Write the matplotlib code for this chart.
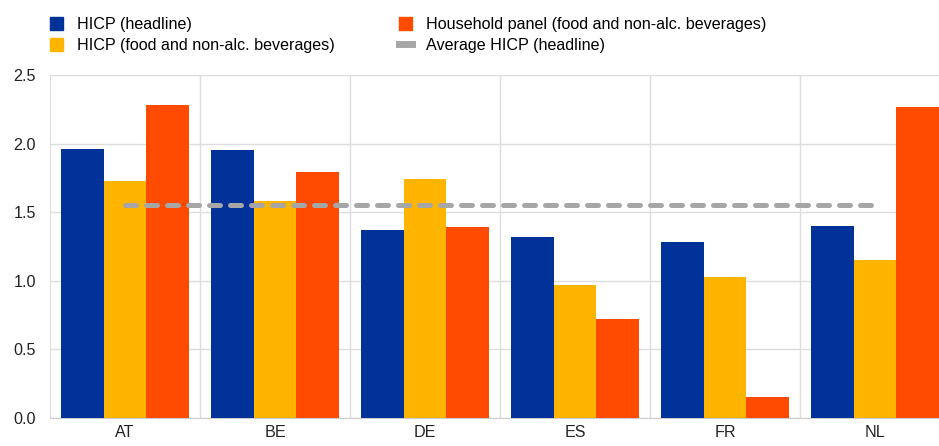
import matplotlib
matplotlib.use("Agg")
import matplotlib.pyplot as plt
import numpy as np
from matplotlib.patches import Patch
from matplotlib.lines import Line2D

plt.rcParams['font.family'] = ['Liberation Sans', 'DejaVu Sans']

countries = ['AT', 'BE', 'DE', 'ES', 'FR', 'NL']
hicp_headline = [1.96, 1.95, 1.37, 1.32, 1.28, 1.40]
hicp_food = [1.73, 1.58, 1.74, 0.97, 1.03, 1.15]
household_food = [2.28, 1.79, 1.39, 0.72, 0.15, 2.27]
avg_hicp = 1.55

blue = '#003299'
yellow = '#FFB400'
orange = '#FF4B00'
grey = '#A6A6A6'

fig = plt.figure(figsize=(9.39, 4.46), dpi=100)
# axes runs a little past the right edge like the original
ax = fig.add_axes([50 / 939, 28 / 446, 900 / 939, 343 / 446])

x = np.arange(len(countries))
w = 0.285
ax.bar(x - w, hicp_headline, w, color=blue, zorder=3)
ax.bar(x, hicp_food, w, color=yellow, zorder=3)
ax.bar(x + w, household_food, w, color=orange, zorder=3)
ax.plot([x[0], x[-1]], [avg_hicp, avg_hicp], color=grey, lw=3.6,
        dashes=(2.2, 2.0), dash_capstyle='round', zorder=4)

ax.set_xlim(-0.5, len(countries) - 0.5)
ax.set_ylim(0, 2.5)
ax.set_yticks(np.arange(0, 2.51, 0.5))
ax.set_yticklabels(['%.1f' % v for v in np.arange(0, 2.51, 0.5)])
ax.set_xticks(x)
ax.set_xticklabels(countries)
ax.set_xticks(np.arange(0.5, len(countries) - 0.5, 1), minor=True)
ax.tick_params(axis='both', which='both', length=0, labelsize=11.6, colors='#222222')
ax.tick_params(axis='y', pad=10)
ax.tick_params(axis='x', pad=5)
ax.grid(axis='y', color='#DDDDDD', lw=1, zorder=0)
ax.grid(axis='x', which='minor', color='#DDDDDD', lw=1, zorder=0)
for s in ['top', 'right']:
    ax.spines[s].set_visible(False)
ax.spines['left'].set_color('#DDDDDD')
ax.spines['bottom'].set_color('#CCCCCC')

handles = [Patch(color=blue), Patch(color=yellow), Patch(color=orange),
           Line2D([0], [0], color=grey, lw=5)]
labels = ['HICP (headline)', 'HICP (food and non-alc. beverages)',
          'Household panel (food and non-alc. beverages)', 'Average HICP (headline)']
fig.legend(handles, labels, ncol=2, loc='upper left',
           bbox_to_anchor=(50 / 939, 1 - 17 / 446),
           frameon=False, fontsize=11.6, handlelength=0.82, handleheight=0.82,
           handletextpad=0.85, columnspacing=4.0, labelspacing=0.38,
           borderaxespad=0, borderpad=0)

fig.savefig('out.png', dpi=100)
